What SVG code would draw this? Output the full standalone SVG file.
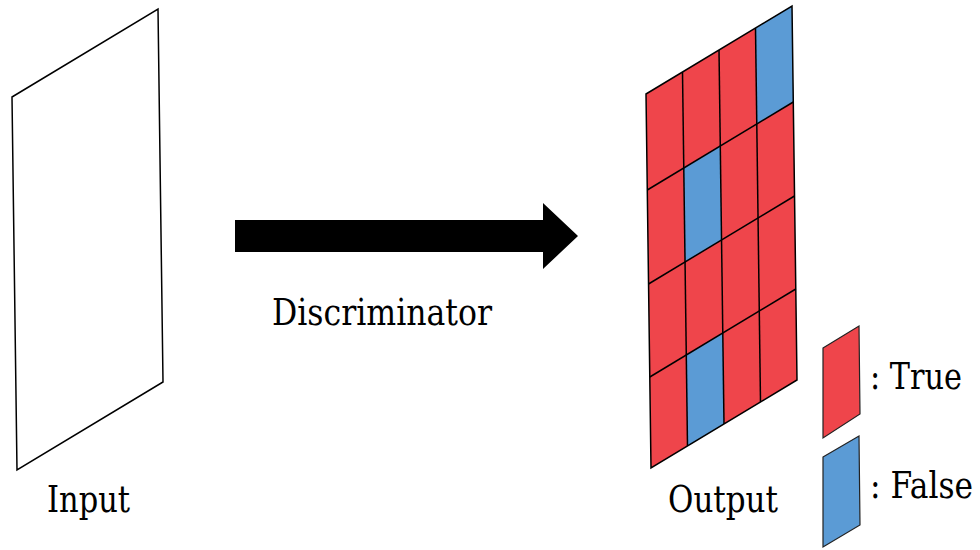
<svg xmlns="http://www.w3.org/2000/svg" width="980" height="550" viewBox="0 0 980 550">
  <style>
    .label { font-family: "DejaVu Serif Condensed", "DejaVu Serif", serif; font-stretch: condensed; font-size: 37px; fill: #000; }
    .plane { fill: #fff; stroke: #000; stroke-width: 1.5; stroke-linejoin: miter; }
    .true { fill: #EF454B; }
    .false { fill: #5B9BD5; }
    .grid { stroke: #000; stroke-width: 1.5; fill: none; }
    .swatch { stroke: #222; stroke-width: 1.2; }
  </style>
  <rect width="980" height="550" fill="#fff"/>

  <!-- input plane -->
  <g id="input">
    <polygon class="plane" points="12,97 158,9 163,382 17,470"/>
    <text class="label" x="47" y="512" textLength="83" lengthAdjust="spacingAndGlyphs">Input</text>
  </g>

  <!-- block arrow and its label -->
  <g id="connectors">
    <polygon fill="#000" points="235,220 543,220 543,203 578,236 543,269 543,252 235,252"/>
    <text class="label" x="272" y="325" textLength="220" lengthAdjust="spacingAndGlyphs">Discriminator</text>
  </g>

  <!-- 4x4 patch output map -->
  <g id="output">
    <polygon class="true" points="646,94 792,6 797,380 651,468"/>
    <polygon class="false" points="755.5,28 792,6 793.3,102 756.8,124"/>
    <polygon class="false" points="683.8,168 720.3,146 721.5,240 685,262"/>
    <polygon class="false" points="686.3,355 722.8,333 724,424 687.5,446"/>
    <g class="grid">
      <line x1="682.5" y1="72" x2="687.5" y2="446"/>
      <line x1="719" y1="50" x2="724" y2="424"/>
      <line x1="755.5" y1="28" x2="760.5" y2="402"/>
      <line x1="647.3" y1="190" x2="793.3" y2="102"/>
      <line x1="648.5" y1="284" x2="794.5" y2="196"/>
      <line x1="649.8" y1="377" x2="795.8" y2="289"/>
      <polygon points="646,94 792,6 797,380 651,468"/>
    </g>
    <text class="label" x="668" y="512" textLength="110" lengthAdjust="spacingAndGlyphs">Output</text>
  </g>

  <!-- legend -->
  <g id="legend-true">
    <polygon class="true swatch" points="823,348 859,326 860,414 823,438"/>
    <text class="label" x="870" y="389" textLength="92" lengthAdjust="spacingAndGlyphs">: True</text>
  </g>
  <g id="legend-false">
    <polygon class="false swatch" points="823,457 859,436 860,525 823,547"/>
    <text class="label" x="870" y="498" textLength="103" lengthAdjust="spacingAndGlyphs">: False</text>
  </g>
</svg>
